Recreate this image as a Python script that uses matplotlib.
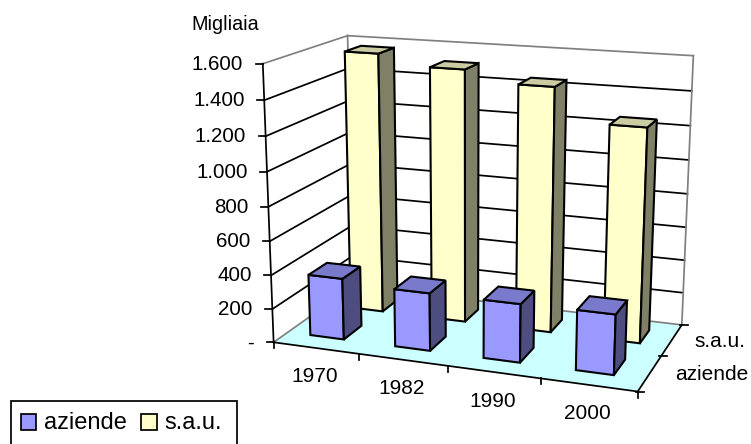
import numpy as np
import matplotlib
matplotlib.use('Agg')
import matplotlib.pyplot as plt
from matplotlib.patches import Polygon, Rectangle

plt.rcParams['font.family'] = ['Liberation Sans', 'DejaVu Sans']

years = ['1970', '1982', '1990', '2000']
series = ['aziende', 's.a.u.']
aziende = [365, 340, 340, 345]
sau = [1570, 1510, 1445, 1255]
y_ticks = [0, 200, 400, 600, 800, 1000, 1200, 1400, 1600]
y_labels = ['-', '200', '400', '600', '800', '1.000', '1.200', '1.400', '1.600']

# (category, series, value) -> pixel, the camera is fitted on these box points
box_3d = [(0, 0, 0), (1, 0, 0), (2, 0, 0), (3, 0, 0), (4, 0, 0), (4, 1, 0), (4, 2, 0), (0, 2, 0),
          (0, 0, 1600), (0, 0, 800), (0, 2, 1600), (4, 2, 1600), (4, 2, 800)]
box_px = [(273.3, 342.7), (359, 353), (447.3, 366.7), (541, 379), (637.3, 390.7), (661.7, 356.7),
          (681.7, 324.3), (354, 286), (263.7, 64), (268, 206), (346.7, 35.7), (694, 55.7), (686.7, 194)]

rows = []
rhs = []
for (a, b, c), (u, v) in zip(box_3d, box_px):
    c = c / 1600
    rows.append([a, b, c, 1, 0, 0, 0, 0, -u * a, -u * b, -u * c])
    rhs.append(u)
    rows.append([0, 0, 0, 0, a, b, c, 1, -v * a, -v * b, -v * c])
    rhs.append(v)
cam = np.linalg.lstsq(np.array(rows), np.array(rhs), rcond=None)[0]
cam = np.append(cam, 1).reshape(3, 4)


def project(a, b, c):
    p = cam @ np.array([a, b, c / 1600, 1])
    return p[0] / p[2], p[1] / p[2]


def line(p, q, color='black', lw=1.25):
    ax.plot([p[0], q[0]], [p[1], q[1]], color=color, lw=lw, solid_capstyle='projecting', zorder=2)


def face(pts, color):
    ax.add_patch(Polygon([project(*p) for p in pts], closed=True, facecolor=color,
                         edgecolor='black', lw=1.5, joinstyle='miter', zorder=3))


def bar(x0, x1, s0, s1, val, front, side, top):
    face([(x0, s0, 0), (x1, s0, 0), (x1, s0, val), (x0, s0, val)], front)
    face([(x1, s0, 0), (x1, s1, 0), (x1, s1, val), (x1, s0, val)], side)
    face([(x0, s0, val), (x1, s0, val), (x1, s1, val), (x0, s1, val)], top)


fig = plt.figure(figsize=(7.51, 4.44), dpi=100)
ax = fig.add_axes([0, 0, 1, 1])
ax.set_xlim(0, 751)
ax.set_ylim(444, 0)
ax.axis('off')

# floor
ax.add_patch(Polygon([project(0, 0, 0), project(4, 0, 0), project(4, 2, 0), project(0, 2, 0)],
                     facecolor='#CCFFFF', edgecolor='none', zorder=1))

# walls
gray = '#808080'
for v in y_ticks[1:-1]:
    line(project(0, 0, v), project(0, 2, v))
    line(project(0, 2, v), project(4, 2, v))
line(project(0, 0, 0), project(0, 2, 0), gray)
line(project(0, 2, 0), project(4, 2, 0), gray)
line(project(0, 0, 1600), project(0, 2, 1600), gray)
line(project(0, 2, 1600), project(4, 2, 1600), gray)
line(project(0, 2, 0), project(0, 2, 1600), gray)
line(project(4, 2, 0), project(4, 2, 1600), gray)

# axes and ticks
line(project(0, 0, 0), project(0, 0, 1600))
line(project(0, 0, 0), project(4, 0, 0))
line(project(4, 0, 0), project(4, 2, 0))
for v, lab in zip(y_ticks, y_labels):
    x, y = project(0, 0, v)
    line((x - 7, y), (x, y))
    ax.text(x - 19.5, y + 0.5, lab, ha='right', va='center', fontsize=14.8, color='black')
for i in range(5):
    x, y = project(i, 0, 0)
    line((x, y), (x, y + 6))
for s in range(3):
    x, y = project(4, s, 0)
    line((x - 2, y), (x + 6, y))

ax.text(225.5, 25, 'Migliaia', ha='center', va='center', fontsize=14.2, color='black')
for i, lab in enumerate(years):
    x, y = project(i + 0.5, 0, 0)
    ax.text(x - 1, y + 29, lab, ha='center', va='center', fontsize=15, color='black')
label_right = [748, 745]
for s, lab in enumerate(series):
    x, y = project(4, s + 0.5, 0)
    ax.text(label_right[s], y + 1, lab, ha='right', va='center', fontsize=15, color='black')

# bars, back row first
for i, v in enumerate(sau):
    bar(i + 0.3, i + 0.7, 1.29, 1.71, v, '#FFFFCC', '#808066', '#CCCCA3')
for i, v in enumerate(aziende):
    bar(i + 0.27, i + 0.67, 0.33, 0.78, v, '#9999FF', '#4D4D80', '#7A7ACC')

# legend, its box runs off the bottom of the picture
ax.add_patch(Rectangle((10.7, 400.7), 226.3, 60, facecolor='white', edgecolor='black', lw=1.25, zorder=4))
leg_x = [20.7, 141.3]
leg_colors = ['#9999FF', '#FFFFCC']
for x, lab, col in zip(leg_x, series, leg_colors):
    ax.add_patch(Rectangle((x, 414.3), 15.5, 16, facecolor=col, edgecolor='black', lw=1.25, zorder=5))
    ax.text(x + 23, 423, lab, ha='left', va='center', fontsize=17, color='black', zorder=5)

fig.savefig('out.png', dpi=100)
